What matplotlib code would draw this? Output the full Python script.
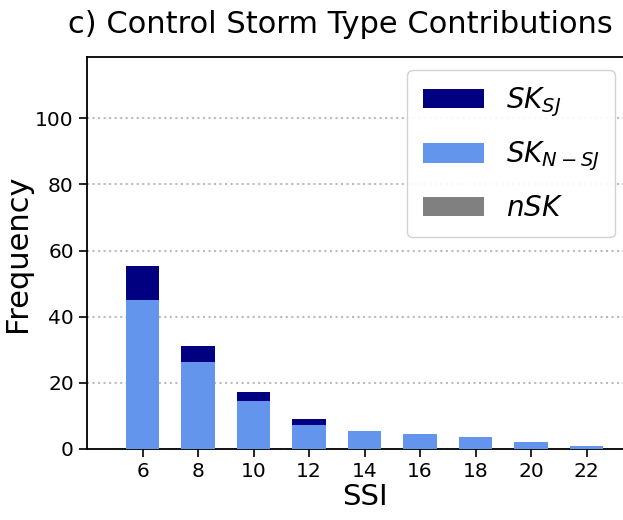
import numpy as np
import matplotlib.pyplot as plt

# SSI bins and storm-type counts
ssi = [6, 8, 10, 12, 14, 16, 18, 20, 22]
sk_nsj = [45, 26.3, 14.5, 7.3, 5.3, 4.5, 3.5, 2.1, 1.0]
sk_sj = [10.2, 4.8, 2.7, 1.9, 0, 0, 0, 0, 0]
nsk = [0, 0, 0, 0, 0, 0, 0, 0, 0]

fig = plt.figure(figsize=(6.23, 5.20), dpi=100)
ax = fig.add_axes([87 / 623, 1 - 449 / 520, 555 / 623, 392 / 520])

x = np.array(ssi)
bottom1 = np.array(sk_nsj)
bottom2 = bottom1 + np.array(sk_sj)
width = 1.2
b_sj = ax.bar(x, sk_sj, width, bottom=bottom1, color="navy", label=r"$SK_{SJ}$", zorder=3)
b_nsj = ax.bar(x, sk_nsj, width, color="cornflowerblue", label=r"$SK_{N-SJ}$", zorder=3)
b_nsk = ax.bar(x, nsk, width, bottom=bottom2, color="grey", label=r"$nSK$", zorder=3)

ax.set_xlim(4, 24)
ax.set_ylim(0, 118.5)
ax.set_xticks(ssi)
ax.set_yticks([0, 20, 40, 60, 80, 100])
ax.tick_params(labelsize=14.5, length=6, width=1.2)
ax.yaxis.grid(True, linestyle=":", color="#bbbbbb", linewidth=1.5, zorder=0)
for s in ax.spines.values():
    s.set_linewidth(1.3)

ax.set_xlabel("SSI", fontsize=21, labelpad=1)
ax.set_ylabel("Frequency", fontsize=22, labelpad=2)

ax.legend(handles=[b_sj, b_nsj, b_nsk], loc="upper right",
          bbox_to_anchor=((615 - 87) / 555, 1 - 13 / 392),
          borderaxespad=0, fontsize=20, handlelength=2.2, labelspacing=0.75,
          borderpad=0.55, framealpha=0.9)

fig.text(340 / 623, 1 - 24 / 520, "c) Control Storm Type Contributions",
         fontsize=22, ha="center", va="center")

fig.savefig("out.png", dpi=100)
